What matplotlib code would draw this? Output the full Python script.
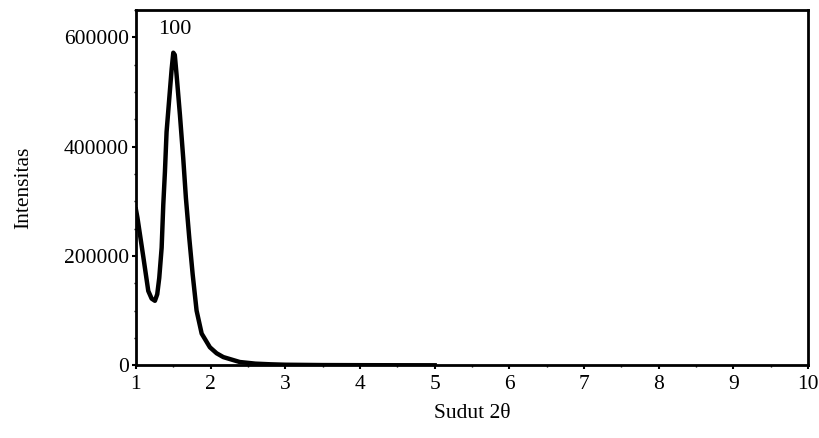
import matplotlib.pyplot as plt
import numpy as np
from matplotlib.ticker import MultipleLocator

plt.rcParams['font.family'] = ['Liberation Serif', 'DejaVu Serif']

# data
sudut = [1.0, 1.02, 1.1, 1.165, 1.21, 1.254, 1.285, 1.312, 1.344, 1.366, 1.388,
         1.41, 1.446, 1.478, 1.50, 1.52, 1.545, 1.589, 1.633, 1.669, 1.714, 1.759,
         1.812, 1.88, 1.99, 2.08, 2.17, 2.39, 2.6, 2.8, 3.0, 3.5, 4.0, 4.5, 5.0]
intensitas = [285000, 270000, 197000, 136000, 122000, 118000, 130000, 160000,
              215000, 294000, 354000, 427000, 488000, 542000, 572000, 568000,
              530000, 458000, 379000, 306000, 233000, 167000, 100000, 58000,
              33000, 22000, 15000, 6000, 3000, 1800, 1000, 400, 200, 80, 0]
puncak_x = 1.52
puncak_label = '100'

fig = plt.figure(figsize=(8.19, 4.38), dpi=100)
ax = fig.add_axes([0.166, 0.166, 0.8206, 0.811])

ax.plot(sudut, intensitas, color='black', lw=3.2, solid_joinstyle='round')
ax.text(puncak_x, 597000, puncak_label, ha='center', va='bottom', fontsize=16)

ax.set_xlim(1, 10)
ax.set_ylim(0, 650000)
ax.set_xticks(np.arange(1, 11))
ax.set_yticks([0, 200000, 400000, 600000])
ax.xaxis.set_minor_locator(MultipleLocator(0.5))
ax.yaxis.set_minor_locator(MultipleLocator(50000))
ax.tick_params(direction='out', length=3, width=1.5, labelsize=15.5, pad=2)
ax.tick_params(axis='x', pad=4)
ax.tick_params(which='minor', direction='out', length=1.5, width=1)

for s in ax.spines.values():
    s.set_linewidth(2)

ax.set_xlabel('Sudut 2θ', fontsize=15.5, labelpad=7)
ax.set_ylabel('Intensitas', fontsize=15.5, labelpad=22)

plt.savefig('out.png', dpi=100)
